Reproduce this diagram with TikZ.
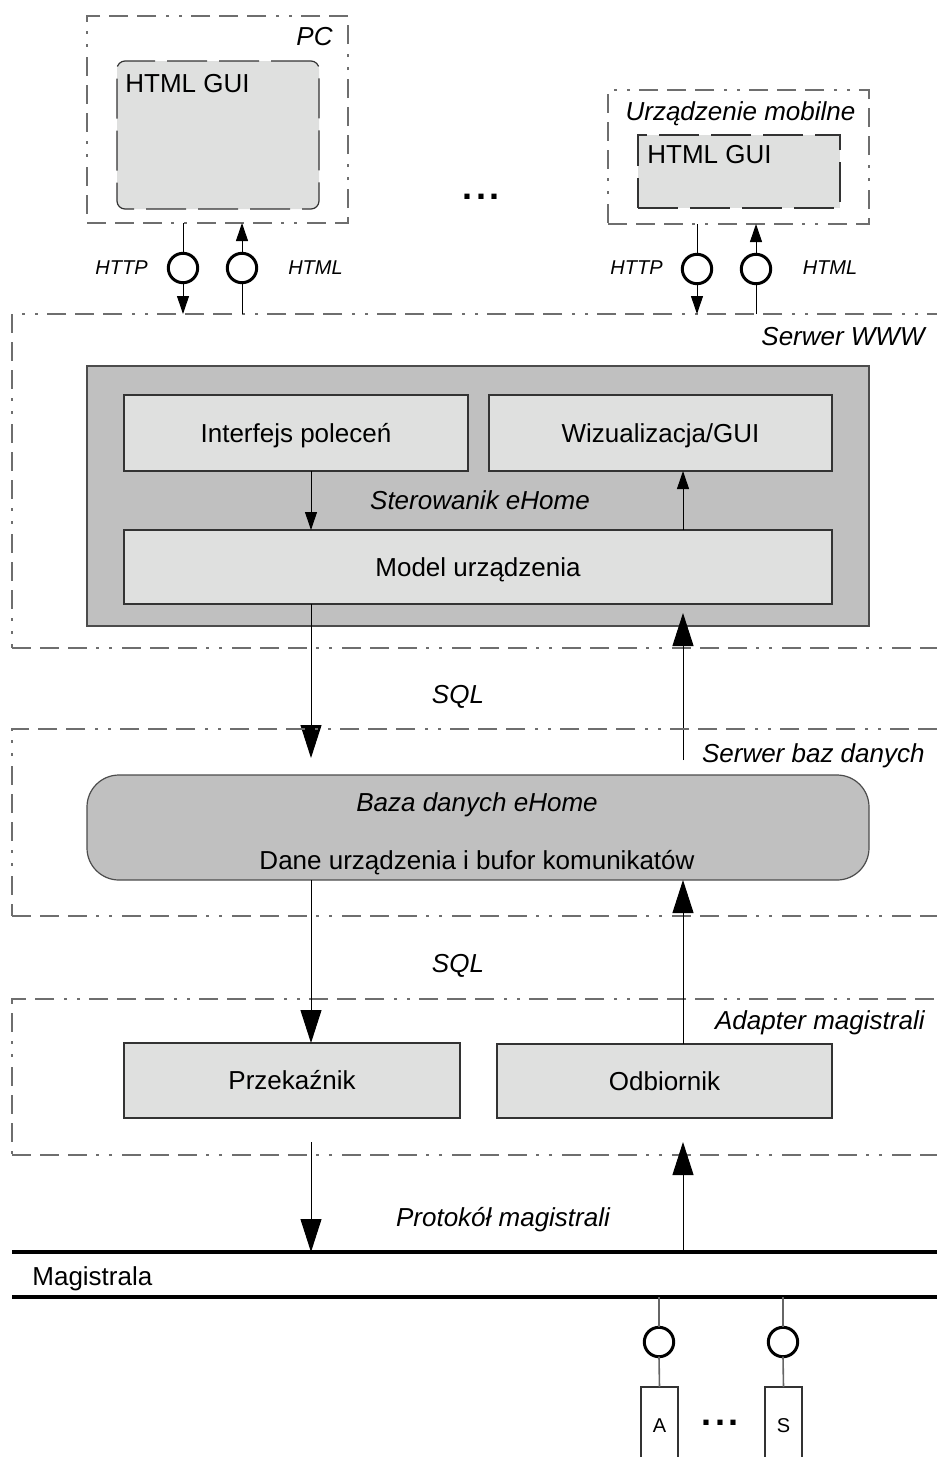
\documentclass[tikz,border=0pt]{standalone}
\usepackage{fontspec}
\setmainfont{Liberation Sans}
\usetikzlibrary{arrows.meta,fit}
\definecolor{lightbox}{RGB}{223,224,223}
\definecolor{darkbox}{RGB}{192,192,192}
\definecolor{framegray}{RGB}{110,110,110}
\begin{document}
\begin{tikzpicture}[x=0.5pt,y=-0.5pt,
  zone/.style={draw=framegray, line width=0.8pt, inner sep=0pt, outer sep=0pt,
    dash pattern=on 9.5pt off 4.5pt on 9.5pt off 4.5pt on 9.5pt off 4.5pt on 1.5pt off 5pt on 1.5pt off 5pt},
  guibox/.style={draw=black!80, fill=lightbox, line width=0.6pt, inner sep=0pt, outer sep=0pt,
    dash pattern=on 20pt off 6pt},
  compbox/.style={draw=black!80, fill=lightbox, line width=0.6pt, inner sep=0pt, outer sep=0pt,
    font=\fontsize{13}{15}\selectfont, rectangle, text height=9.3pt, text depth=0pt},
  ctrlbox/.style={draw=black!70, fill=darkbox, line width=0.6pt, inner sep=0pt, outer sep=0pt},
  lbl/.style={font=\fontsize{13}{15}\selectfont, inner sep=0pt},
  ilbl/.style={font=\fontsize{13}{15}\selectfont\itshape, inner sep=0pt},
  slbl/.style={font=\fontsize{10}{12}\selectfont\itshape, inner sep=0pt},
  port/.style={circle, draw=black, line width=1.5pt, minimum size=14.7pt, inner sep=0pt, outer sep=0pt},
  conn/.style={draw=black, line width=0.5pt},
  sarrow/.style={conn, -{Triangle[length=9pt,width=6pt]}},
  barrow/.style={conn, -{Triangle[length=16.5pt,width=10.5pt]}},
  busline/.style={draw=black, line width=1.6pt},
  devline/.style={draw=black!60, line width=0.8pt},
  devbox/.style={draw=black!80, line width=0.6pt, inner sep=0pt, outer sep=0pt,
    font=\fontsize{10}{12}\selectfont, rectangle, minimum width=18.5pt, minimum height=38pt,
    text height=7.2pt, text depth=0pt},
  dots/.style={font=\fontsize{18}{20}\selectfont\bfseries, inner sep=0pt}
]
\useasboundingbox (0,0) rectangle (937,1457);

% ---------- clients ----------
\node[zone, fit={(87,16) (348,223)}] (pc) {};
\node[ilbl, anchor=base east] (pclbl) at (333,45) {PC};
\node[guibox, rounded corners=4pt, fit={(117,61) (319,209)}] (pcgui) {};
\node[lbl, anchor=base west] (pcguilbl) at (125,92) {HTML GUI};

\node[zone, fit={(608,90) (869,224)}] (mob) {};
\node[ilbl, anchor=base] (moblbl) at (740.5,120) {Urządzenie mobilne};
\node[guibox, fit={(638,135) (840,208)}] (mobgui) {};
\node[lbl, anchor=base west] (mobguilbl) at (647,163) {HTML GUI};

\node[dots] (topdots) at (481,197) {.\hspace{1.8pt}.\hspace{1.8pt}.};

% ---------- web server ----------
\node[zone, fit={(12,314) (945,648)}] (www) {};
\node[ilbl, anchor=base east] (wwwlbl) at (925,345) {Serwer WWW};

% ports PC
\node[port] (p1) at (183,268) {};
\node[port] (p2) at (242,268) {};
\node[slbl] (http1) at (121.5,268) {HTTP};
\node[slbl] (html1) at (315.5,268) {HTML};
\draw[conn] (p1 |- pc.south) -- (p1.north);
\draw[sarrow] (p1.south) -- (p1 |- www.north);
\draw[conn] (p2 |- www.north) -- (p2.south);
\draw[sarrow] (p2.north) -- (p2 |- pc.south);

% ports mobile
\node[port] (p3) at (697,269) {};
\node[port] (p4) at (756,269) {};
\node[slbl] (http2) at (636.5,268) {HTTP};
\node[slbl] (html2) at (830,268) {HTML};
\draw[conn] (p3 |- mob.south) -- (p3.north);
\draw[sarrow] (p3.south) -- (p3 |- www.north);
\draw[conn] (p4 |- www.north) -- (p4.south);
\draw[sarrow] (p4.north) -- (p4 |- mob.south);

% controller
\node[ctrlbox, fit={(87,366) (869,626)}] (ctrl) {};
\node[compbox, minimum width=172pt, minimum height=38pt] (ip) at (296,433) {Interfejs poleceń};
\node[compbox, minimum width=171.5pt, minimum height=38pt] (wiz) at (660.5,433) {Wizualizacja/GUI};
\node[compbox, minimum width=354pt, minimum height=37pt] (model) at (478,567) {Model urządzenia};
\node[ilbl, anchor=base] (ctrllbl) at (480,509) {Sterowanik eHome};

\coordinate (L) at (311,0);
\coordinate (R) at (683,0);
\draw[sarrow] (ip.south -| L) -- (model.north -| L);
\draw[sarrow] (model.north -| R) -- (wiz.south -| R);

% SQL upper
\node[ilbl, anchor=base] (sql1) at (458,703) {SQL};
\coordinate (sqlLend) at (311,758);
\coordinate (sqlRstart) at (683,760);
\coordinate (sqlRend) at (683,613);
\draw[barrow] (model.south -| L) -- (sqlLend);
\draw[barrow] (sqlRstart) -- (sqlRend);

% ---------- database server ----------
\node[zone, fit={(12,729) (945,916)}] (dbs) {};
\node[ilbl, anchor=base east] (dbslbl) at (925,762) {Serwer baz danych};
\node[ctrlbox, rounded corners=16pt, fit={(87,775) (869,880)}] (baza) {};
\node[ilbl, anchor=base] (bazalbl) at (477,811) {Baza danych eHome};
\node[lbl, anchor=base] (danelbl) at (477,869) {Dane urządzenia i bufor komunikatów};

% SQL lower
\node[ilbl, anchor=base] (sql2) at (458,972) {SQL};

% ---------- bus adapter ----------
\node[zone, fit={(12,999) (945,1155)}] (adp) {};
\node[ilbl, anchor=base east] (adplbl) at (925,1029) {Adapter magistrali};
\node[compbox, minimum width=168pt, minimum height=37.5pt] (prz) at (292,1080.5) {Przekaźnik};
\node[compbox, minimum width=167.5pt, minimum height=37pt] (odb) at (664.5,1081) {Odbiornik};

\draw[barrow] (baza.south -| L) -- (prz.north -| L);
\draw[barrow] (odb.north -| R) -- (baza.south -| R);

% ---------- bus ----------
\coordinate (busAa) at (12,1252);
\coordinate (busAb) at (945,1252);
\coordinate (busBa) at (12,1297);
\coordinate (busBb) at (945,1297);
\draw[busline] (busAa) -- (busAb);
\draw[busline] (busBa) -- (busBb);
\node[lbl, anchor=base west] (maglbl) at (32,1285) {Magistrala};
\node[ilbl, anchor=base] (protlbl) at (503,1226) {Protokół magistrali};

\coordinate (downstart) at (311,1142);
\coordinate (upend) at (683,1142);
\draw[barrow] (downstart) -- (busAa -| L);
\draw[barrow] (busAa -| R) -- (upend);

% devices
\node[port] (dA) at (659,1342) {};
\node[port] (dS) at (783,1342) {};
\node[devbox] (boxA) at (659.5,1425) {A};
\node[devbox] (boxS) at (783.5,1425) {S};
\draw[devline] (dA |- busBa) -- (dA.north);
\draw[devline] (dA.south) -- (boxA.north);
\draw[devline] (dS |- busBa) -- (dS.north);
\draw[devline] (dS.south) -- (boxS.north);
\node[dots] (botdots) at (720,1423) {.\hspace{1.8pt}.\hspace{1.8pt}.};
\end{tikzpicture}
\end{document}
